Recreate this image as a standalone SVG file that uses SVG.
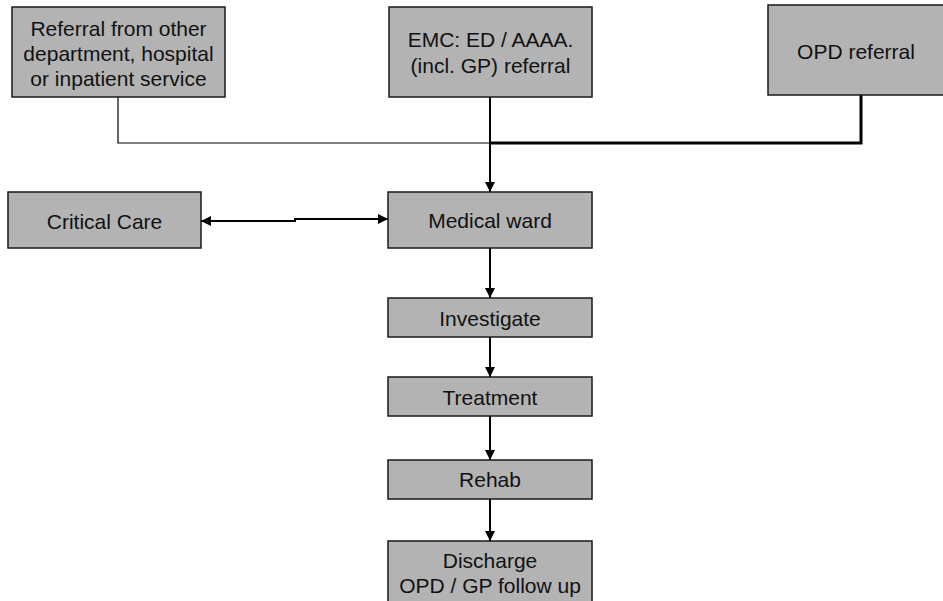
<svg xmlns="http://www.w3.org/2000/svg" width="943" height="601" viewBox="0 0 943 601">
  <style>
    .box { fill: #b3b3b3; stroke: #1a1a1a; stroke-width: 1.5; }
    .lbl { font-family: "Liberation Sans", Arial, sans-serif; font-size: 21px; fill: #111; text-anchor: middle; }
    .thin { fill: none; stroke: #000; stroke-width: 1.2; }
    .mid { fill: none; stroke: #000; stroke-width: 2; }
    .thick { fill: none; stroke: #000; stroke-width: 3; }
  </style>
  <defs>
    <marker id="arrow" viewBox="0 0 10 10" refX="10" refY="5" markerWidth="10" markerHeight="10" markerUnits="userSpaceOnUse" orient="auto-start-reverse">
      <path d="M0,0 L10,5 L0,10 Z" fill="#000"/>
    </marker>
  </defs>

  <rect width="943" height="601" fill="#fff"/>

  <!-- connectors -->
  <g id="connectors">
    <path class="thin" d="M118,97 V143 H490"/>
    <path class="thick" d="M490,143 H861 V95"/>
    <path class="mid" d="M490,97 V192" marker-end="url(#arrow)"/>
    <path class="mid" d="M201,221 H295 V219 H388" marker-start="url(#arrow)" marker-end="url(#arrow)"/>
    <path class="mid" d="M490,248 V298" marker-end="url(#arrow)"/>
    <path class="mid" d="M490,337 V377" marker-end="url(#arrow)"/>
    <path class="mid" d="M490,416 V460" marker-end="url(#arrow)"/>
    <path class="mid" d="M490,499 V541" marker-end="url(#arrow)"/>
  </g>

  <!-- nodes -->
  <g id="referral-other">
    <rect class="box" x="12" y="7" width="213" height="90"/>
    <text class="lbl" x="118.5" y="36">Referral from other</text>
    <text class="lbl" x="118.5" y="61">department, hospital</text>
    <text class="lbl" x="118.5" y="86">or inpatient service</text>
  </g>
  <g id="emc">
    <rect class="box" x="389" y="7" width="203" height="90"/>
    <text class="lbl" x="490.5" y="47">EMC: ED / AAAA.</text>
    <text class="lbl" x="490.5" y="73">(incl. GP) referral</text>
  </g>
  <g id="opd-referral">
    <rect class="box" x="768" y="5" width="180" height="90"/>
    <text class="lbl" x="856" y="59">OPD referral</text>
  </g>
  <g id="critical-care">
    <rect class="box" x="8" y="192" width="193" height="56"/>
    <text class="lbl" x="104.5" y="229">Critical Care</text>
  </g>
  <g id="medical-ward">
    <rect class="box" x="388" y="192" width="204" height="56"/>
    <text class="lbl" x="490" y="228">Medical ward</text>
  </g>
  <g id="investigate">
    <rect class="box" x="388" y="298" width="204" height="39"/>
    <text class="lbl" x="490" y="326">Investigate</text>
  </g>
  <g id="treatment">
    <rect class="box" x="388" y="377" width="204" height="39"/>
    <text class="lbl" x="490" y="405">Treatment</text>
  </g>
  <g id="rehab">
    <rect class="box" x="388" y="460" width="204" height="39"/>
    <text class="lbl" x="490" y="487">Rehab</text>
  </g>
  <g id="discharge">
    <rect class="box" x="388" y="541" width="204" height="70"/>
    <text class="lbl" x="490" y="568">Discharge</text>
    <text class="lbl" x="490" y="593">OPD / GP follow up</text>
  </g>
</svg>
